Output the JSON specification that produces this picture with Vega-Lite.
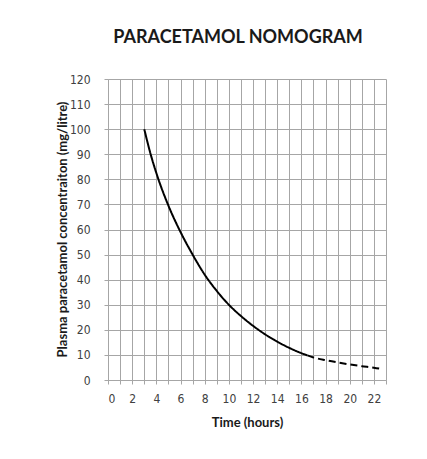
{
  "$schema": "https://vega.github.io/schema/vega-lite/v6.json",
  "autosize": "none",
  "width": 278,
  "height": 301,
  "padding": {"left": 108, "top": 79, "right": 41, "bottom": 79},
  "background": "white",
  "title": {
    "text": "PARACETAMOL NOMOGRAM",
    "font": "Lato",
    "fontSize": 18,
    "fontWeight": "bold",
    "color": "#1a1a1a",
    "anchor": "middle",
    "dx": -9,
    "offset": 26
  },
  "data": {
    "values": [
      {"time": 3, "conc": 100, "part": "solid"},
      {"time": 3.5, "conc": 90.5, "part": "solid"},
      {"time": 4, "conc": 82.5, "part": "solid"},
      {"time": 5, "conc": 69.5, "part": "solid"},
      {"time": 6, "conc": 59, "part": "solid"},
      {"time": 7, "conc": 50, "part": "solid"},
      {"time": 8, "conc": 42, "part": "solid"},
      {"time": 9, "conc": 35.5, "part": "solid"},
      {"time": 10, "conc": 30, "part": "solid"},
      {"time": 11, "conc": 25.5, "part": "solid"},
      {"time": 12, "conc": 21.6, "part": "solid"},
      {"time": 13, "conc": 18.2, "part": "solid"},
      {"time": 14, "conc": 15.3, "part": "solid"},
      {"time": 15, "conc": 12.8, "part": "solid"},
      {"time": 16, "conc": 10.7, "part": "solid"},
      {"time": 16.5, "conc": 9.8, "part": "solid"},
      {"time": 16.5, "conc": 9.8, "part": "dashed"},
      {"time": 17, "conc": 9, "part": "dashed"},
      {"time": 18, "conc": 7.9, "part": "dashed"},
      {"time": 19, "conc": 7, "part": "dashed"},
      {"time": 20, "conc": 6.2, "part": "dashed"},
      {"time": 21, "conc": 5.5, "part": "dashed"},
      {"time": 22, "conc": 4.9, "part": "dashed"},
      {"time": 22.6, "conc": 4.4, "part": "dashed"}
    ]
  },
  "mark": {"type": "line", "color": "black", "strokeWidth": 2, "interpolate": "monotone"},
  "encoding": {
    "x": {
      "field": "time",
      "type": "quantitative",
      "scale": {"domain": [0, 23], "nice": false},
      "axis": {
        "title": "Time (hours)",
        "values": [0, 1, 2, 3, 4, 5, 6, 7, 8, 9, 10, 11, 12, 13, 14, 15, 16, 17, 18, 19, 20, 21, 22, 23],
        "labelExpr": "datum.value % 2 == 0 ? datum.label : ''",
        "labelPadding": 9,
        "titleX": 139,
        "titleY": 42,
        "titleBaseline": "middle"
      }
    },
    "y": {
      "field": "conc",
      "type": "quantitative",
      "scale": {"domain": [0, 120], "nice": false},
      "axis": {
        "title": "Plasma paracetamol concentraiton (mg/litre)",
        "values": [0, 10, 20, 30, 40, 50, 60, 70, 80, 90, 100, 110, 120],
        "labelPadding": 14,
        "titleX": -46,
        "titleY": 150,
        "titleAngle": 270,
        "titleBaseline": "middle",
        "titleAlign": "center"
      }
    },
    "strokeDash": {
      "field": "part",
      "type": "nominal",
      "scale": {"domain": ["solid", "dashed"], "range": [[1, 0], [7, 4]]},
      "legend": null
    }
  },
  "config": {
    "view": {"stroke": null},
    "axis": {
      "grid": true,
      "gridColor": "#a6a6a6",
      "gridWidth": 1,
      "gridOpacity": 1,
      "domainColor": "#a6a6a6",
      "tickColor": "#a6a6a6",
      "tickSize": 4,
      "labelFont": "DejaVu Sans Condensed, Liberation Sans, sans-serif",
      "labelFontSize": 12,
      "labelColor": "#404040",
      "titleFont": "Lato",
      "titleFontSize": 13,
      "titleFontWeight": "bold",
      "titleColor": "#1a1a1a"
    }
  }
}
